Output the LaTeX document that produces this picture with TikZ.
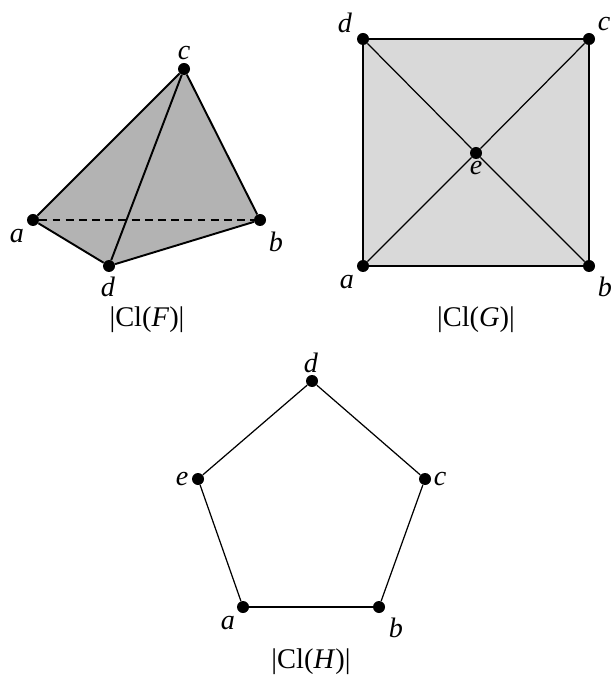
\documentclass[tikz,border=0pt]{standalone}
\usepackage{fontspec}
\setmainfont{Liberation Serif}
\usetikzlibrary{backgrounds}
\definecolor{facedark}{HTML}{B3B3B3}
\definecolor{facelight}{HTML}{D9D9D9}
\tikzset{
  vx/.style={circle,fill=black,inner sep=0pt,minimum size=2.4mm},
  vl/.style={font=\fontsize{16}{18}\selectfont\itshape,inner sep=0pt},
  capt/.style={font=\fontsize{16.2}{18}\selectfont,inner sep=0pt},
  thk/.style={draw=black,line width=1.1pt},
  thn/.style={draw=black,line width=0.7pt},
  dsh/.style={draw=black,line width=0.9pt,dash pattern=on 4.5pt off 3pt},
}
\begin{document}
\begin{tikzpicture}[x=0.2mm,y=-0.2mm]
\useasboundingbox (0,0) rectangle (614,677);
  % F
  \node[vx] (fa) at (33,220) {};
  \node[vx] (fb) at (260,220) {};
  \node[vx] (fc) at (184,69) {};
  \node[vx] (fd) at (109,266) {};
  \node[vl] (fal) at (17,236) {a};
  \node[vl] (fbl) at (276,242) {b};
  \node[vl] (fcl) at (184,53) {c};
  \node[vl] (fdl) at (108,287) {d};
  \node[capt] (fcap) at (147,320) {|Cl(\textit{F})|};
  \begin{scope}[on background layer]
    \fill[facedark] (fa.center) -- (fc.center) -- (fb.center) -- (fd.center) -- cycle;
  \end{scope}
  \draw[thk] (fa) -- (fc);
  \draw[thk] (fc) -- (fb);
  \draw[thk] (fb) -- (fd);
  \draw[thk] (fd) -- (fa);
  \draw[thk] (fc) -- (fd);
  \draw[dsh] (fa) -- (fb);
  % G
  \node[vx] (ga) at (363,266) {};
  \node[vx] (gb) at (589,266) {};
  \node[vx] (gc) at (589,39) {};
  \node[vx] (gd) at (363,39) {};
  \node[vx] (ge) at (476,153) {};
  \node[vl] (gal) at (347,282) {a};
  \node[vl] (gbl) at (605,287) {b};
  \node[vl] (gcl) at (604,24) {c};
  \node[vl] (gdl) at (345,23) {d};
  \node[vl] (gel) at (476,168) {e};
  \node[capt] (gcap) at (476,320) {|Cl(\textit{G})|};
  \begin{scope}[on background layer]
    \fill[facelight] (ga.center) -- (gb.center) -- (gc.center) -- (gd.center) -- cycle;
  \end{scope}
  \foreach \u/\v in {ga/gb,gb/gc,gc/gd,gd/ga,ga/ge,gb/ge,gc/ge,gd/ge}
    \draw[thn] (\u) -- (\v);
  % H
  \node[vx] (ha) at (243,607) {};
  \node[vx] (hb) at (379,607) {};
  \node[vx] (hc) at (425,479) {};
  \node[vx] (hd) at (312,381) {};
  \node[vx] (he) at (198,479) {};
  \node[vl] (hal) at (228,623) {a};
  \node[vl] (hbl) at (396,628) {b};
  \node[vl] (hcl) at (440,479) {c};
  \node[vl] (hdl) at (311,363) {d};
  \node[vl] (hel) at (182,479) {e};
  \node[capt] (hcap) at (311,662) {|Cl(\textit{H})|};
  \foreach \u/\v in {ha/hb,hb/hc,hc/hd,hd/he,he/ha}
    \draw[thn] (\u) -- (\v);
\end{tikzpicture}
\end{document}
